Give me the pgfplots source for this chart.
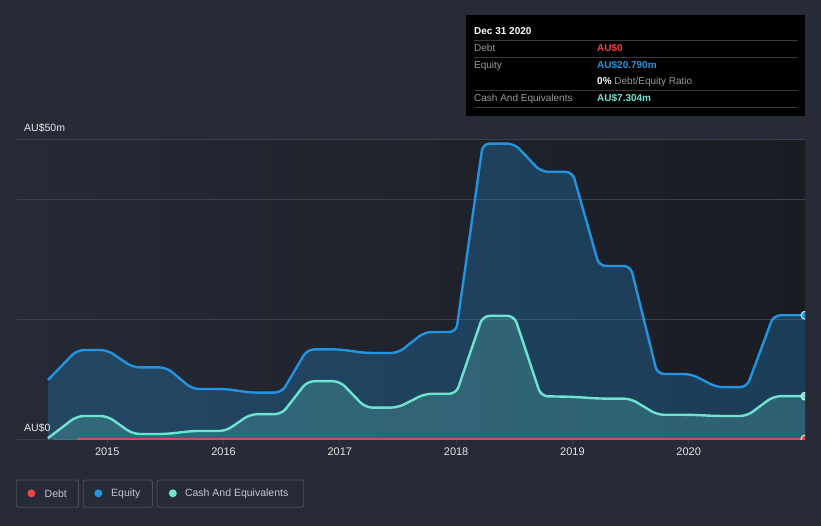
\documentclass[border=0pt]{standalone}
\usepackage{pgfplots}
\pgfplotsset{compat=1.18}
\usepackage{fontspec}
\setmainfont{Liberation Sans}

\definecolor{bg}{HTML}{262B37}
\definecolor{plotL}{HTML}{252A35}
\definecolor{plotR}{HTML}{191C23}
\definecolor{gridc}{HTML}{3B404B}
\definecolor{equity}{HTML}{2394DF}
\definecolor{cash}{HTML}{6EE3CF}
\definecolor{debt}{HTML}{E64646}
\definecolor{debtline}{HTML}{C4545C}
\definecolor{lbl}{HTML}{9A9A9A}
\definecolor{sep}{HTML}{3A3A3A}
\definecolor{legtxt}{HTML}{C4C8D0}
\definecolor{legbox}{HTML}{4A4F5A}

\pgfplotstableread{
year   equity  cash
2014.49 10.0   0.3
2014.74 15.0   4.0
2015.00 15.0   4.0
2015.22 12.1   1.0
2015.51 12.1   1.0
2015.73 8.5    1.5
2016.02 8.5    1.5
2016.23 7.9    4.3
2016.50 7.9    4.3
2016.72 15.1   9.8
2017.00 15.1   9.8
2017.22 14.5   5.4
2017.50 14.5   5.4
2017.73 18.0   7.7
2018.00 18.0   7.7
2018.23 49.4   20.7
2018.50 49.4   20.7
2018.73 44.7   7.3
2019.00 44.7   7.2
2019.23 29.0   6.9
2019.50 29.0   6.9
2019.73 11.0   4.2
2020.02 11.0   4.2
2020.24 8.8    4.0
2020.50 8.8    4.0
2020.73 20.79  7.304
2021.00 20.79  7.304
}\bsdata

\begin{document}
\begin{tikzpicture}[x=1pt,y=1pt]
\fill[bg] (0,0) rectangle (821,526);

\begin{axis}[
    at={(17pt,86pt)}, anchor=south west,
    scale only axis, width=788pt, height=300pt,
    xmin=2014.224, xmax=2021, ymin=0, ymax=50,
    axis line style={draw=none},
    axis background/.style={left color=plotL, right color=plotR},
    ytick={0,20,40,50}, yticklabels={}, y tick style={draw=none},
    ymajorgrids, grid style={gridc, line width=1pt},
    xtick={2015,2016,2017,2018,2019,2020},
    xticklabels={2015,2016,2017,2018,2019,2020},
    xtick pos=bottom, tick align=outside, major tick length=4pt,
    x tick style={gridc, line width=1pt},
    xticklabel style={text=white!90!black, font=\fontsize{11}{13}\selectfont},
    clip marker paths=true,
]
\addplot[draw=none, fill=equity, fill opacity=0.28, rounded corners=7pt] table[x=year, y=equity] {\bsdata} \closedcycle;
\addplot[draw=none, fill=cash, fill opacity=0.22, rounded corners=7pt] table[x=year, y=cash] {\bsdata} \closedcycle;
\addplot[equity, line width=2.4pt, rounded corners=7pt] table[x=year, y=equity] {\bsdata};
\addplot[cash, line width=2.4pt, rounded corners=7pt] table[x=year, y=cash] {\bsdata};
\addplot[debtline, line width=1.6pt] coordinates {(2014.74,0.15) (2021.00,0.15)};
% end markers
\addplot[only marks, mark=*, mark size=4pt, mark options={fill=equity, draw=white, line width=0.8pt}] coordinates {(2021,20.79)};
\addplot[only marks, mark=*, mark size=4pt, mark options={fill=cash, draw=white, line width=0.8pt}] coordinates {(2021,7.304)};
\addplot[only marks, mark=*, mark size=4pt, mark options={fill=debt, draw=white, line width=0.8pt}] coordinates {(2021,0.15)};
\end{axis}

% y labels
\node[anchor=base west, inner sep=0, text=white!92!black, font=\fontsize{10.5}{12}\selectfont] at (24,394) {AU\$50m};
\node[anchor=base west, inner sep=0, text=white!92!black, font=\fontsize{10.5}{12}\selectfont] at (24,94.3) {AU\$0};

% tooltip
\fill[black] (466,410) rectangle (805,511);
\node[anchor=base west, inner sep=0, text=white, font=\bfseries\fontsize{10}{12}\selectfont] at (474,491) {Dec 31 2020};
\foreach \yy in {486,468.7,436,418.7} \draw[sep, line width=0.9pt] (474,\yy) -- (798,\yy);
\begin{scope}[every node/.style={anchor=base west, inner sep=0, font=\fontsize{10}{12}\selectfont}]
\node[text=lbl] at (474,474.3) {Debt};
\node[text=debt] at (597,474.3) {\bfseries AU\$0};
\node[text=lbl] at (474,457) {Equity};
\node[text=equity] at (597,457) {\bfseries AU\$20.790m};
\node[text=lbl] at (597,441) {\textcolor{white}{\bfseries 0\%} Debt/Equity Ratio};
\node[text=lbl] at (474,424) {Cash And Equivalents};
\node[text=cash] at (597,424) {\bfseries AU\$7.304m};
\end{scope}

% legend buttons
\draw[legbox, line width=0.9pt, rounded corners=2pt] (16.2,18.7) rectangle (78.5,46);
\draw[legbox, line width=0.9pt, rounded corners=2pt] (83.2,18.7) rectangle (152.4,46);
\draw[legbox, line width=0.9pt, rounded corners=2pt] (157,18.7) rectangle (303.7,46);
\fill[debt] (31.4,32.7) circle (4);
\fill[equity] (98.4,32.7) circle (4);
\fill[cash] (172.8,32.7) circle (4);
\begin{scope}[every node/.style={anchor=west, inner sep=0, text=legtxt, font=\fontsize{10.5}{12}\selectfont}]
\node at (44.5,32.7) {Debt};
\node at (111,32.7) {Equity};
\node at (184.8,32.7) {Cash And Equivalents};
\end{scope}
\end{tikzpicture}
\end{document}
